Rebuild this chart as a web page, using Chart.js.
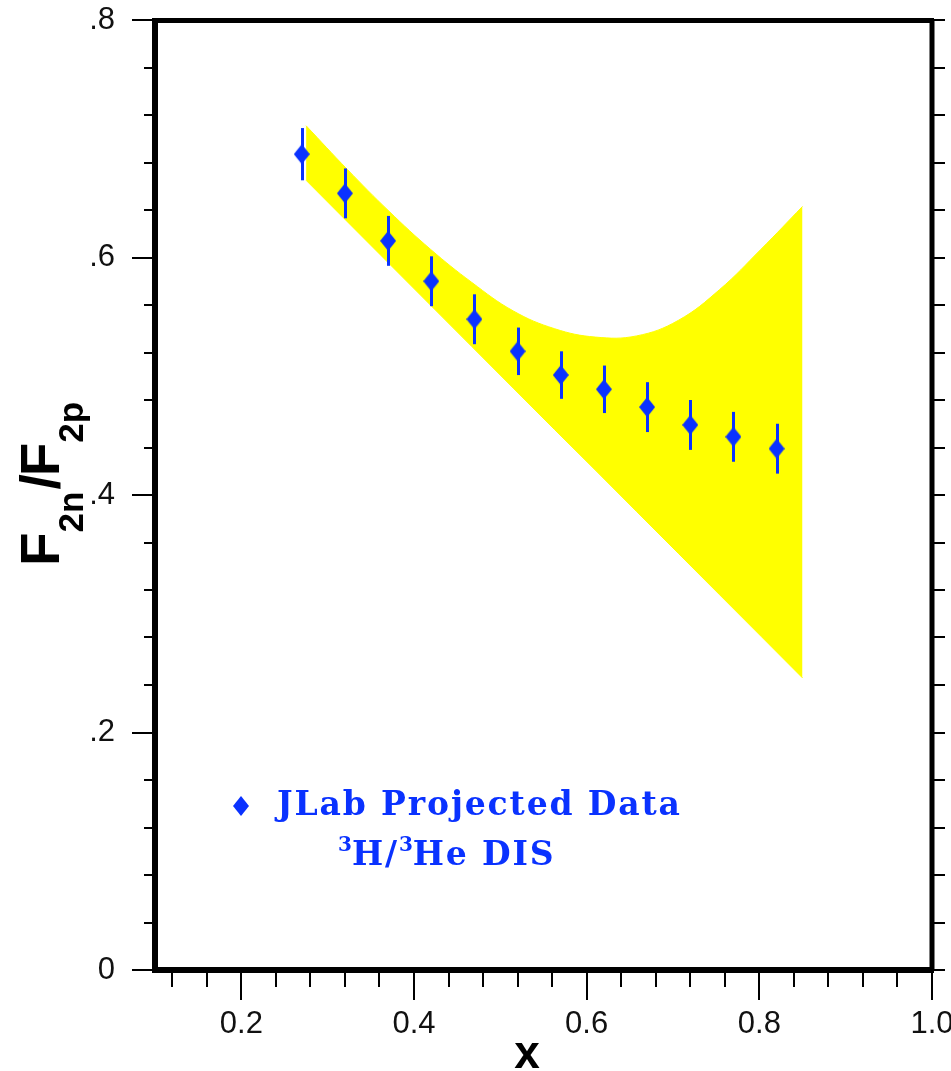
<!DOCTYPE html>
<html>
<head>
<meta charset="utf-8">
<script src="https://cdn.jsdelivr.net/npm/chart.js@4.4.1/dist/chart.umd.min.js"></script>
<style>
  html, body { margin: 0; padding: 0; background: #fff; }
  #chart { display: block; }
</style>
</head>
<body>
<canvas id="chart" width="951" height="1071"></canvas>
<script>
// projected data points
const xPoints = [0.27, 0.32, 0.37, 0.42, 0.47, 0.52, 0.57, 0.62, 0.67, 0.72, 0.77, 0.82];
const yPoints = [0.687, 0.654, 0.614, 0.580, 0.548, 0.521, 0.501, 0.489, 0.474, 0.459, 0.449, 0.439];
const yErrors = [0.022, 0.021, 0.021, 0.021, 0.021, 0.020, 0.020, 0.020, 0.021, 0.021, 0.021, 0.021];

// yellow band (model range)
const bandX    = [0.275, 0.323, 0.371, 0.419, 0.467, 0.515, 0.563, 0.610, 0.658, 0.706, 0.754, 0.802, 0.850];
const bandLow  = [0.665, 0.630, 0.595, 0.560, 0.525, 0.490, 0.455, 0.421, 0.386, 0.351, 0.316, 0.281, 0.246];
const bandHigh = [0.711, 0.674, 0.639, 0.607, 0.579, 0.555, 0.540, 0.533, 0.534, 0.547, 0.573, 0.607, 0.643];

// axes
const xMajorTicks = [0.2, 0.4, 0.6, 0.8, 1.0];
const xTickLabels = ['0.2', '0.4', '0.6', '0.8', '1.0'];
const xMinorTicks = [0.12, 0.16, 0.24, 0.28, 0.32, 0.36, 0.44, 0.48, 0.52, 0.56, 0.64, 0.68, 0.72, 0.76, 0.84, 0.88, 0.92, 0.96];
const yMajorTicks = [0, 0.2, 0.4, 0.6, 0.8];
const yTickLabels = ['0', '.2', '.4', '.6', '.8'];
const yMinorTicks = [0.04, 0.08, 0.12, 0.16, 0.24, 0.28, 0.32, 0.36, 0.44, 0.48, 0.52, 0.56, 0.64, 0.68, 0.72, 0.76];

const BLUE = '#0a32ff';
const YELLOW = '#ffff00';

function diamond(w, h, color) {
  const c = document.createElement('canvas');
  c.width = w; c.height = h;
  const g = c.getContext('2d');
  g.fillStyle = color;
  g.beginPath();
  g.moveTo(w / 2, 0); g.lineTo(w, h / 2); g.lineTo(w / 2, h); g.lineTo(0, h / 2);
  g.closePath();
  g.fill();
  return c;
}
const marker = diamond(16, 20, BLUE);

function noPad(s) {
  s.paddingLeft = 0; s.paddingRight = 0; s.paddingTop = 0; s.paddingBottom = 0;
}

// frame, ticks, error bars, titles and the in-plot key
const frame = {
  id: 'frame',
  afterDatasetsDraw(chart) {
    const { ctx, scales: { x, y } } = chart;
    ctx.save();
    ctx.strokeStyle = BLUE;
    ctx.lineWidth = 3;
    xPoints.forEach((xv, i) => {
      const px = Math.round(x.getPixelForValue(xv)) + 0.5;
      ctx.beginPath();
      ctx.moveTo(px, y.getPixelForValue(yPoints[i] - yErrors[i]));
      ctx.lineTo(px, y.getPixelForValue(yPoints[i] + yErrors[i]));
      ctx.stroke();
    });
    ctx.restore();
  },
  afterDraw(chart) {
    const { ctx, chartArea: a, scales: { x, y } } = chart;
    ctx.save();
    ctx.strokeStyle = '#000';

    // tick marks
    ctx.lineWidth = 2;
    ctx.beginPath();
    yMajorTicks.forEach(v => {
      const py = Math.round(y.getPixelForValue(v));
      ctx.moveTo(a.left - 23, py); ctx.lineTo(a.left, py);
      ctx.moveTo(a.right, py); ctx.lineTo(a.right + 13, py);
    });
    yMinorTicks.forEach(v => {
      const py = Math.round(y.getPixelForValue(v));
      ctx.moveTo(a.left - 11, py); ctx.lineTo(a.left, py);
      ctx.moveTo(a.right, py); ctx.lineTo(a.right + 13, py);
    });
    xMajorTicks.forEach(v => {
      const px = Math.round(x.getPixelForValue(v));
      ctx.moveTo(px, a.bottom); ctx.lineTo(px, a.bottom + 30);
    });
    xMinorTicks.forEach(v => {
      const px = Math.round(x.getPixelForValue(v));
      ctx.moveTo(px, a.bottom); ctx.lineTo(px, a.bottom + 17);
    });
    ctx.stroke();

    // heavy frame
    ctx.lineWidth = 5;
    ctx.beginPath();
    ctx.moveTo(a.left, a.top + 0.5); ctx.lineTo(a.right + 2, a.top + 0.5);
    ctx.moveTo(a.right, a.top); ctx.lineTo(a.right, a.bottom);
    ctx.stroke();
    ctx.lineWidth = 6;
    ctx.beginPath();
    ctx.moveTo(a.left, a.top - 2); ctx.lineTo(a.left, a.bottom + 3);
    ctx.moveTo(a.left - 3, a.bottom); ctx.lineTo(a.right + 2, a.bottom);
    ctx.stroke();

    // axis titles
    ctx.fillStyle = '#000';
    ctx.textBaseline = 'alphabetic';
    ctx.textAlign = 'center';
    ctx.font = 'bold 46px "Liberation Sans"';
    ctx.fillText('x', 527, 1068);

    ctx.save();
    ctx.translate(59, 566);
    ctx.rotate(-Math.PI / 2);
    ctx.textAlign = 'left';
    const big = 'bold 55px "Liberation Sans"';
    const sub = 'bold 35px "Liberation Sans"';
    let cx = 0;
    [['F', big, 0], ['2n', sub, 24], ['/', big, 0], ['F', big, 0], ['2p', sub, 24]].forEach(([t, f, dy], i) => {
      ctx.font = f;
      if (t === '/') cx += 2;
      if (i === 3) cx -= 2;
      ctx.fillText(t, cx, dy);
      cx += ctx.measureText(t).width;
    });
    ctx.restore();

    // in-plot key
    const keyX = x.getPixelForValue(0.2);
    const keyY = y.getPixelForValue(0.138);
    ctx.drawImage(marker, Math.round(keyX - 8), Math.round(keyY - 10));
    ctx.fillStyle = BLUE;
    ctx.textAlign = 'left';
    const mainFont = 'bold 33px "DejaVu Serif"';
    const supFont = 'bold 20px "DejaVu Serif"';
    ctx.font = mainFont;
    const label = chart.data.datasets[2].label;
    ctx.letterSpacing = '0px';
    const w1 = ctx.measureText(label).width;
    const sp1 = (403 - w1) / (label.length - 1);
    ctx.letterSpacing = sp1 + 'px';
    ctx.fillText(label, 277, 815);

    const runs = [['3', true], ['H/', false], ['3', true], ['He DIS', false]];
    let tx = 338;
    runs.forEach(([t, sup]) => {
      ctx.font = sup ? supFont : mainFont;
      ctx.letterSpacing = (sup ? 0 : sp1) + 'px';
      ctx.fillText(t, tx, sup ? 851 : 865);
      tx += ctx.measureText(t).width;
    });
    ctx.restore();
  }
};

const ctx = document.getElementById('chart').getContext('2d');

new Chart(ctx, {
  type: 'line',
  data: {
    datasets: [
      {
        label: 'band low',
        data: bandX.map((v, i) => ({ x: v, y: bandLow[i] })),
        borderColor: YELLOW,
        borderWidth: 1,
        pointRadius: 0,
        fill: false,
        order: 2
      },
      {
        label: 'band high',
        data: bandX.map((v, i) => ({ x: v, y: bandHigh[i] })),
        borderColor: YELLOW,
        backgroundColor: YELLOW,
        borderWidth: 1,
        pointRadius: 0,
        tension: 0.4,
        fill: '-1',
        order: 1
      },
      {
        label: 'JLab Projected Data',
        data: xPoints.map((v, i) => ({ x: v, y: yPoints[i] })),
        showLine: false,
        pointStyle: marker,
        pointRadius: 10,
        order: 0
      }
    ]
  },
  options: {
    responsive: false,
    animation: false,
    devicePixelRatio: 1,
    layout: { padding: { top: 20, right: 19, left: 0, bottom: 0 } },
    plugins: { legend: { display: false }, tooltip: { enabled: false } },
    scales: {
      x: {
        type: 'linear',
        min: 0.1,
        max: 1.0,
        grid: { display: false, drawTicks: false },
        border: { display: false },
        afterBuildTicks: s => { s.ticks = xMajorTicks.map(v => ({ value: v })); },
        afterFit: s => { s.height = 101; noPad(s); },
        ticks: {
          padding: 36,
          color: '#111',
          maxRotation: 0,
          autoSkip: false,
          font: { family: 'Liberation Sans', size: 31 },
          callback: (v, i) => xTickLabels[i]
        }
      },
      y: {
        type: 'linear',
        min: 0,
        max: 0.8,
        grid: { display: false, drawTicks: false },
        border: { display: false },
        afterBuildTicks: s => { s.ticks = yMajorTicks.map(v => ({ value: v })); },
        afterFit: s => { s.width = 155; noPad(s); },
        ticks: {
          padding: 40,
          color: '#111',
          autoSkip: false,
          font: { family: 'Liberation Sans', size: 31 },
          callback: (v, i) => yTickLabels[i]
        }
      }
    }
  },
  plugins: [frame]
});
</script>
</body>
</html>
